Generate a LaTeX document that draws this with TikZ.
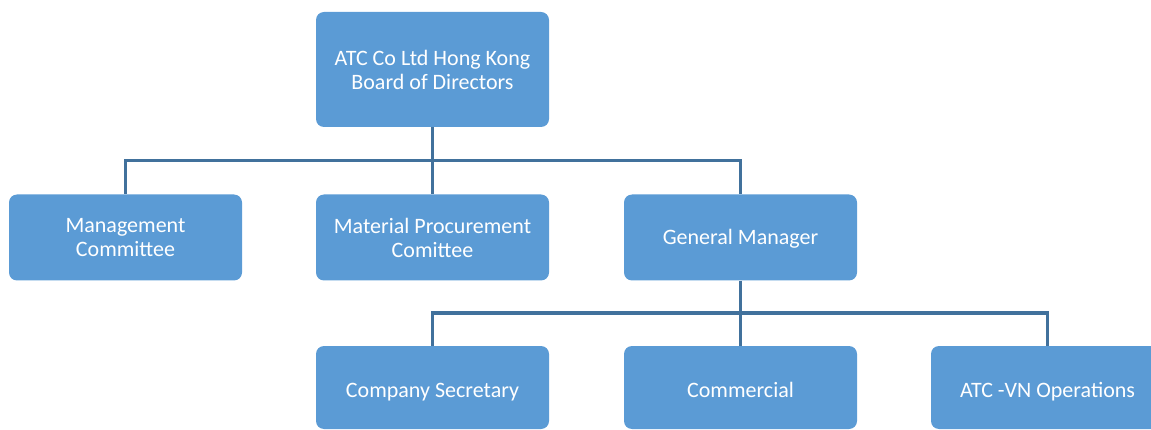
\documentclass[tikz,border=0pt]{standalone}
\usepackage{fontspec}
\setmainfont{Carlito}
\usetikzlibrary{calc}
\definecolor{boxblue}{HTML}{5B9BD5}
\definecolor{linkblue}{HTML}{41719C}

\begin{document}
\begin{tikzpicture}[x=1pt,y=-1pt]
\tikzset{orgbox/.style={fill=boxblue,rounded corners=8pt,text=white,align=center,
  font=\fontsize{22}{24}\selectfont,minimum width=233pt,inner sep=0pt}}
\tikzset{oneline/.style={text height=14pt,text depth=0pt}}
\tikzset{link/.style={draw=linkblue,line width=3pt}}
\useasboundingbox (0,0) rectangle (1151,430);

\node[orgbox, minimum height=115pt] (board) at (432.5,69.5) {ATC Co Ltd Hong Kong\\Board of Directors};

   \foreach \name/\x/\opt/\txt in {%
     mgmt/125.5//{Management\\Committee},%
     proc/432.5//{Material Procurement\\Comittee},%
     gm/740.5/oneline/{General Manager}}
      \node[orgbox, \opt, minimum height=86pt] (\name) at (\x,237.5) {\txt};

   \foreach \name/\x/\txt in {%
     sec/432.5/{Company Secretary},%
     comm/740.5/{Commercial},%
     ops/1047.5/{ATC -VN Operations}}
      \node[orgbox, oneline, text height=19pt, minimum height=83pt] (\name) at (\x,387.5) {\txt};

% board to first row
\coordinate (bus1) at (432.5,161);
\draw[link] (board.south) -- (bus1);
\foreach \n in {mgmt,proc,gm}
   \draw[link] (bus1) -| (\n.north);

% general manager to second row
\coordinate (bus2) at (740.5,313);
\draw[link] (gm.south) -- (bus2);
\foreach \n in {sec,comm,ops}
   \draw[link] (bus2) -| (\n.north);
\end{tikzpicture}
\end{document}
